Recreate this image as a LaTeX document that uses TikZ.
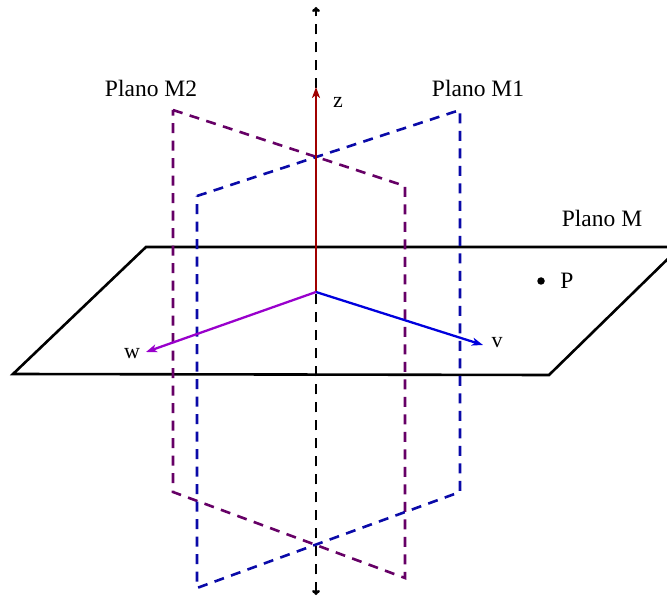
\documentclass[tikz,border=0pt]{standalone}
\usepackage{fontspec}
\setmainfont{Liberation Serif}
\usetikzlibrary{arrows.meta}
\definecolor{mone}{HTML}{0A0AA8}
\definecolor{mtwo}{HTML}{660066}
\definecolor{vcol}{HTML}{0000DD}
\definecolor{wcol}{HTML}{9900CC}
\definecolor{zcol}{HTML}{A00000}
\tikzset{
  planeM/.style={black,line width=2.6pt,line join=miter},
  planeone/.style={mone,line width=2.6pt,dash pattern=on 10pt off 7.5pt},
  planetwo/.style={mtwo,line width=2.6pt,dash pattern=on 10pt off 7.5pt},
  axisline/.style={black,line width=2.6pt,dash pattern=on 10pt off 8pt,{To[length=5pt,width=8pt]}-{To[length=5pt,width=8pt]}},
  vecarrow/.style={line width=2.3pt,-{Stealth[length=11pt,width=8pt,inset=3pt]}},
  lbl/.style={font=\fontsize{23.5}{27}\selectfont,inner sep=0pt},
  smalllbl/.style={font=\fontsize{22}{25}\selectfont,inner sep=0pt}
}
\begin{document}
\begin{tikzpicture}[x=1pt,y=-1pt]
\useasboundingbox (0,0) rectangle (667,596);
\clip (0,0) rectangle (667,596);
% coordinates
\coordinate (O) at (316,292);
\coordinate (Mtl) at (146,247);
\coordinate (Mtr) at (680,247);
\coordinate (Mbr) at (549,375);
\coordinate (Mbl) at (13,374);
\coordinate (Atop) at (316,7);
\coordinate (Abot) at (316,595);
\coordinate (Ztip) at (316,87);
\coordinate (Vtip) at (483,345);
\coordinate (Wtip) at (146,352);
% plane M1
\coordinate (A1) at (197,196);
\coordinate (B1) at (460,110);
\coordinate (C1) at (460,492);
\coordinate (D1) at (197,588);
% plane M2
\coordinate (A2) at (173,110);
\coordinate (B2) at (405,186);
\coordinate (C2) at (405,578);
\coordinate (D2) at (173,492);

\draw[planeM] (Mtl) -- (Mtr) -- (Mbr) -- (Mbl) -- cycle;
\draw[planetwo] (A2) -- (B2) -- (C2) -- (D2) -- cycle;
\draw[planeone] (A1) -- (B1) -- (C1) -- (D1) -- cycle;
\draw[axisline] (Abot) -- (Atop);
\draw[vecarrow,zcol] (O) -- (Ztip);
\draw[vecarrow,vcol] (O) -- (Vtip);
\draw[vecarrow,wcol] (O) -- (Wtip);

\node[circle,fill=black,inner sep=0pt,minimum size=7.5pt] (P) at (541,281) {};
\node[lbl] (Plab) at (567,281) {P};
\node[smalllbl] (zlab) at (338,102) {z};
\node[smalllbl] (vlab) at (497,343) {v};
\node[smalllbl] (wlab) at (132,354) {w};
\node[lbl] (M2lab) at (151,88) {Plano M2};
\node[lbl] (M1lab) at (478,88) {Plano M1};
\node[lbl] (Mlab) at (602,218) {Plano M};
\end{tikzpicture}
\end{document}
